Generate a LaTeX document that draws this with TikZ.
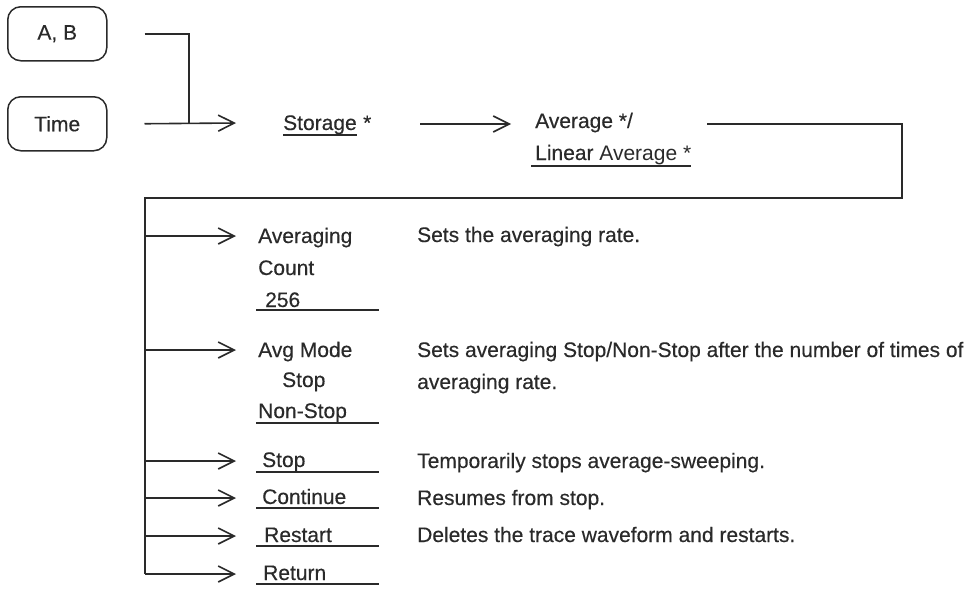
\documentclass[tikz,border=0pt]{standalone}
\usepackage{fontspec}
\setmainfont{Liberation Sans}
\newfontfamily\inkfont{Liberation Sans}[FakeBold=0.35]
\newfontfamily\thinfont{Liberation Sans}
\usetikzlibrary{arrows.meta}
\definecolor{ink}{HTML}{2A2A2A}
\begin{document}
\begin{tikzpicture}[x=1pt,y=-1pt,
  every node/.style={inner sep=0pt, text=ink, font=\inkfont\fontsize{21}{25}\selectfont},
  txt/.style={anchor=base west},
  key/.style={draw=ink, line width=1.5pt, rounded corners=13pt, minimum width=99pt, minimum height=54pt, anchor=north west},
  wire/.style={draw=ink, line width=1.6pt},
  arr/.style={wire, -{Straight Barb[length=16pt,width=16pt,line width=1.6pt]}},
  uline/.style={draw=ink, line width=1.6pt}]
\useasboundingbox (0,0) rectangle (980,589);

% keys
\node[key] (ab) at (7,6) {A, B};
\node[key] (time) at (7,96) {Time};

% first stage
\coordinate (tj) at (189,123);
\coordinate (stip) at (236,123);
\draw[wire] ([xshift=37pt]ab.east) -| (tj);
\draw[arr] ([xshift=37pt]time.east) -- (stip);

\node[txt] (stor) at (283,130) {Storage};
\node[txt] (storstar) at ([xshift=6pt]stor.base east) {*};
\draw[uline] ([yshift=-5pt]stor.base west) -- ([yshift=-5pt]stor.base east);

\coordinate (a0) at (420,124);
\coordinate (a1) at (511,124);
\draw[arr] (a0) -- (a1);

\node[txt] (avg1) at (535,128) {Average */};
\node[txt] (avg2) at (535,160) {Linear {\thinfont\fontsize{21}{25}\selectfont Average *}};
\draw[uline] ([xshift=-4pt,yshift=-6pt]avg2.base west) -- ([yshift=-6pt]avg2.base east);

% trunk
\coordinate (r0) at (707,124);
\coordinate (r1) at (902,124);
\coordinate (r2) at (902,198);
\coordinate (l1) at (145,198);
\coordinate (l2) at (145,574);
\draw[wire] (r0) -- (r1) -- (r2) -- (l1) -- (l2);

% branch arrow tips
\coordinate (t1) at (236,236);
\coordinate (t2) at (236,350);
\coordinate (t3) at (236,461);
\coordinate (t4) at (236,498);
\coordinate (t5) at (236,536);
\coordinate (t6) at (236,574);
\foreach \t in {t1,t2,t3,t4,t5,t6} \draw[arr] (l1 |- \t) -- (\t);

% items
\node[txt] (i1a) at (258,243) {Averaging};
\node[txt] (i1b) at (258,275) {Count};
\node[txt] (i1c) at (265,307) {256};
\draw[uline] (256,310) -- (379,310);

\node[txt] (i2a) at (258,357) {Avg Mode};
\node[txt] (i2b) at (282,387) {Stop};
\node[txt] (i2c) at (258,418) {Non-Stop};
\draw[uline] (256,423) -- (379,423);

\node[txt] (i3) at (262,467) {Stop};
\draw[uline] (256,472) -- (379,472);
\node[txt] (i4) at (262,504) {Continue};
\draw[uline] (256,508) -- (379,508);
\node[txt] (i5) at (264,542) {Restart};
\draw[uline] (256,546) -- (379,546);
\node[txt] (i6) at (263,580) {Return};
\draw[uline] (256,584) -- (379,584);

% descriptions
\node[txt] (d1) at (417,242) {Sets the averaging rate.};
\node[txt] (d2) at (417,357) {Sets averaging Stop/Non-Stop after the number of times of};
\node[txt] (d2b) at (417,389) {averaging rate.};
\node[txt] (d3) at (417,468) {Temporarily stops average-sweeping.};
\node[txt] (d4) at (417,505) {Resumes from stop.};
\node[txt] (d5) at (417,542) {Deletes the trace waveform and restarts.};
\end{tikzpicture}
\end{document}
